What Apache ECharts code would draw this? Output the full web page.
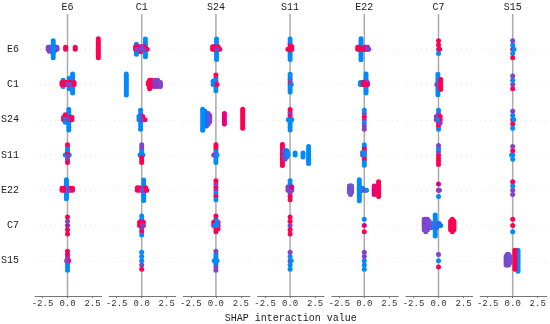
<!DOCTYPE html>
<html><head><meta charset="utf-8">
<script src="https://cdn.jsdelivr.net/npm/echarts@6/dist/echarts.min.js"></script>
<style>html,body{margin:0;padding:0;background:#fff}#c{width:550px;height:324px}</style>
</head><body><div id="c"></div>
<script>
const features = ['E6','C1','S24','S11','E22','C7','S15'];
const tickValues = [-2.5, 0, 2.5];
const xLabel = 'SHAP interaction value';
// One array per column feature; one entry per row feature.
// Each entry: [shap value, [feature colour value (0 low .. 1 high) of every point at that value]]
const colE6 = [
  [[-1.93,[0.36,0.4]],[-1.82,[0.4,0.36,0.4]],[-1.71,[0.4,0.4]],[-1.6,[0.36,0.4,0.4]],[-1.32,[0.4,0.4,0.36]],[-1.21,[0.4,0.4]],[-1.05,[0.45,0.4]],
   [-1.43,[0,0,0,0.05,0,0,0,0,0]],[-0.19,[0.95,1]],[0.77,[1,0.95]],[3.08,[1,1,1,1,1,1,1,1,1,1]]],
  [[-0.44,[0,0,0,0]],[0.17,[0,0,0,0,0,0]],[0.51,[0,0,0,0,0,0,0,0,0,0]],
   [-0.55,[1,0.95]],[-0.33,[1,1]],[-0.11,[0.95,1]],[0.06,[1,1]],[0.33,[1,1]],[0.66,[0.95,1]],[0.0,[0.4]],[0.22,[0.4]]],
  [[0.13,[0,0,0,0,0,0,0,0,0]],[-0.39,[1,1]],[-0.22,[1,0,0,1]],[0.28,[1,1]],[0.44,[1,0.9]],[0.0,[0.4]]],
  [[-0.22,[0]],[0.17,[0]],[0.0,[0,1,0.4,0,0.4,0,1,1]]],
  [[-0.11,[0,0,0,0,0,0,0,0,0,0]],[-0.55,[1,1]],[-0.39,[1,0.95]],[0.28,[1,1]],[0.5,[1,1]],[0.11,[0.4]]],
  [[0.0,[0.5,0.4,1,1,1]]],
  [[0.0,[0.25,0.4,0,0.8,0,1,0]],[0.11,[1]],[-0.09,[0.4]]]
];
const colC1 = [
  [[-0.53,[0,0,0,0,0]],[0.37,[0,0,0,0,0,0,0,0]],
   [-0.61,[1,1]],[-0.33,[1,0.9]],[-0.11,[1,1,0.9]],[0.11,[1,1]],[0.28,[0.9,1]],[0.55,[1]],[-0.44,[0.4]],[0.0,[0.4,0.4]],[0.22,[0.4]]],
  [[-1.54,[0,0,0,0,0,0,0,0,0,0,0]],[0.66,[1,1]],[0.79,[1,1,0.95,1,1]],[0.99,[1,0.9,1,1]],
   [1.32,[0.5,0.4,0.45,0.4]],[1.6,[0.4,0.4,0.45,0.4]],[1.87,[0.4,0.4,0.4]]],
  [[-0.11,[0,0,0,0,0,0,0]],[0.11,[1,1]],[0.33,[1]],[-0.28,[0,0]],[0.0,[0.4]]],
  [[-0.17,[0]],[0.11,[0]],[0.0,[0,0,1,0,1,0.4,1,0.4]]],
  [[0.2,[0,0,0,0,0,0,0,0,0]],[-0.44,[1,1]],[-0.22,[1,0.95]],[0.39,[1,1]],[0.5,[1]],[0.0,[0.4]]],
  [[0.0,[1,1,0.4,0,1,0,0]],[-0.22,[1,1]],[0.17,[1,0.9]],[0.11,[0.4]]],
  [[0.0,[0,0,0.4,0,1]]]
];
const colS24 = [
  [[0.06,[0,0,0,0,0,0,0,0,0]],[-0.33,[1,1]],[-0.17,[1,0.9]],[0.22,[1,1]],[0.39,[1]],[0.13,[0.4]]],
  [[0.0,[0,0.4,0,0,0,1]],[-0.28,[0,0]],[0.11,[1]]],
  [[-0.61,[0.4,0.4,0.36,0.4]],[-0.77,[0.36,0.4,0.4,0.36,0.4,0.4]],[-0.94,[0.28,0.32,0.32,0.28,0.32,0.32,0.28]],
   [-1.1,[0.15,0.1,0.2,0.15,0.1,0.2,0.15,0.1]],[-1.32,[0,0,0,0,0,0,0,0,0,0,0]],
   [0.85,[0.8,0.8,0.75,0.8,0.8,0.8]],[2.68,[1,1,1,1,1,1,1,1,1,1]]],
  [[0.0,[0.4,0.4,0,0,0,1,0,1]],[-0.22,[0.4]],[0.11,[0]]],
  [[0.0,[0.4,1,0,0.4,1,1,0]]],
  [[0.0,[1,0,1,0,1,1]],[-0.22,[1,1]],[0.22,[1,1,1]],[-0.11,[0]],[0.11,[0,0]]],
  [[0.0,[0.4,0,0,0,0.4,0.4,0.4]],[-0.17,[0]],[0.11,[0]]]
];
const colS11 = [
  [[0.0,[0.4,1,1,1,0,0,0,0,0]],[-0.22,[1]],[0.17,[1,1]]],
  [[0.0,[1,1,0,0.4,0,0,0,0]],[0.11,[0]]],
  [[0.0,[0.4,0.4,0,1,0,0.4,0,1,0]],[-0.17,[0]],[0.17,[0]]],
  [[-0.77,[1,1,1,1,1,1,1,1,1,1,1]],[-0.61,[0.45,0.5,0.45,0.4]],[-0.5,[0.36,0.4,0.36,0.32,0.4]],
   [-0.33,[0.2,0.25,0.2,0.15]],[-0.22,[0,0]],[0.5,[0,0]],[1.29,[0,0,0]],[1.85,[0,0,0,0,0,0,0,0,0]]],
  [[0.0,[0.4,0,0.4,0,1,0,1]],[-0.22,[0.4,0.4]],[0.17,[0.4,0.7]]],
  [[0.0,[0.4,1,1,1,1]]],
  [[0.0,[0.5,0,0,0.4,0]],[0.11,[0]]]
];
const colE22 = [
  [[-0.33,[0,0,0,0,0,0,0,0,0,0,0]],[-0.66,[1,1]],[-0.5,[1,0.95]],[-0.11,[1]],[0.06,[1,1]],[0.17,[1,0.9]],[0.33,[0.4,0.45]],[0.44,[0.4]]],
  [[0.17,[0,0,0,0,0,0,0,0,0,0]],[-0.39,[0,0]],[-0.22,[0,0]],[-0.11,[1,1]],[0.0,[1,0.9]],[0.33,[0.4,0.4]],[0.28,[1]]],
  [[0.0,[0.4,1,0,0.4,0.4,0,0.4]]],
  [[0.0,[0,1,1,1,1,1,0,0,0]],[-0.17,[0.4,0.4]],[-0.06,[0,0]]],
  [[-1.49,[0.36,0.4,0.36,0.4]],[-1.38,[0.32,0.36,0.32,0.36,0.32]],[-1.27,[0.36,0.32,0.36,0.32]],
   [-0.5,[0,0,0,0,0,0,0,0,0,0,0]],[-0.33,[0,0]],[-0.17,[0,0]],[0.11,[1]],[0.22,[0]],
   [0.99,[0.8,0.75,0.8,0.8,0.75]],[1.43,[1,1,1,1,1,1,1,1]]],
  [[0.0,[0.7,0,1]]],
  [[0.0,[0,0.4,0,0.4,0]]]
];
const colC7 = [
  [[0.0,[0.4,1,0,1]],[0.11,[1]]],
  [[-0.06,[0,0,0,0,0,0,0,0,0]],[-0.17,[0.4]],[0.22,[1,1,1,1,1]]],
  [[0.0,[0,0,1,0.4,1,0,0]],[-0.22,[1,0.4]],[0.17,[1,1,0.4]],[-0.11,[0]]],
  [[0.0,[1,0.4,1,0,1,0.4,1]]],
  [[0.0,[0.8,0.7,0]],[0.09,[0.4]]],
  [[-1.43,[0.4,0.4,0.36,0.4,0.4,0.36]],[-1.27,[0.36,0.4,0.36,0.4,0.36,0.4,0.36]],[-1.1,[0.4,0.36,0.4,0.4,0.36,0.4]],
   [-0.94,[0.4,0.36,0.4,0.36]],[-0.77,[0.36,0.32,0.36]],[-0.55,[0.25,0.28,0.25]],[-0.33,[0,0,0,0,0,0,0,0,0,0,0]],
   [-0.17,[0.2,0.25,0.2]],[0.06,[0.25,0.2]],[0.22,[0.1]],
   [1.21,[1,0.95,1,1,0.95]],[1.38,[1,1,0.95,1,1,1,0.95]],[1.54,[1,1,0.95,1,1]]],
  [[0.0,[0,0.4,1]]]
];
const colS15 = [
  [[0.0,[1,0,0,0.4,1]],[0.13,[0]]],
  [[0.0,[0.4,0,1,0.4]]],
  [[0.0,[1,0,1,0.4,0]],[0.11,[0]]],
  [[0.0,[0,1,0,0.4]],[-0.11,[0]]],
  [[0.0,[0.4,0,0.4,1]]],
  [[0.0,[1,1,0]]],
  [[-0.66,[0.4,0.36,0.4,0.4,0.36]],[-0.55,[0.36,0.4,0.36,0.4,0.36,0.4]],[-0.42,[0.4,0.36,0.4,0.36,0.4,0.4]],[-0.28,[0.36,0.32,0.36,0.32]],
   [0.53,[0,0,0,0,0,0,0,0,0,0,0]],[0.39,[0,0,0,0,0,0,0,0]],[0.22,[1,1,1,1,1,0.95,1,1,1,1]]]
];
const columns = [colE6, colC1, colS24, colS11, colE22, colC7, colS15];

// shap-style beeswarm layout of one row
function swarm(groups, row) {
  const pts = [];
  groups.forEach(g => g[1].forEach(c => pts.push([g[0], c])));
  const xs = pts.map(p => p[0]);
  const mn = Math.min(...xs), mx = Math.max(...xs);
  const q = xs.map(x => Math.round(100 * (x - mn) / (mx - mn + 1e-8)));
  const idx = pts.map((p, i) => i).sort((a, b) => (q[a] - q[b]) || (a - b));
  const ys = new Array(pts.length).fill(0);
  let layer = 0, last = -1;
  idx.forEach(i => {
    if (q[i] !== last) layer = 0;
    ys[i] = Math.ceil(layer / 2) * ((layer % 2) * 2 - 1);
    layer++; last = q[i];
  });
  const m = Math.max(...ys.map(y => y + 1));
  return pts.map((p, i) => [p[0], row - ys[i] * 0.9 * (0.4 / m), p[1]]);
}

// shap red_blue colormap (LCH interpolation)
function lch2rgb(L, C, H) {
  const a = C * Math.cos(H), b = C * Math.sin(H);
  const fy = (L + 16) / 116, fx = fy + a / 500, fz = fy - b / 200;
  const f = t => t > 6 / 29 ? t * t * t : 3 * (6 / 29) * (6 / 29) * (t - 4 / 29);
  const X = 0.95047 * f(fx), Y = f(fy), Z = 1.08883 * f(fz);
  const lin = [3.2406 * X - 1.5372 * Y - 0.4986 * Z, -0.9689 * X + 1.8758 * Y + 0.0415 * Z, 0.0557 * X - 0.2040 * Y + 1.0570 * Z];
  const gam = v => { v = Math.max(0, Math.min(1, v)); return v <= 0.0031308 ? 12.92 * v : 1.055 * Math.pow(v, 1 / 2.4) - 0.055; };
  return 'rgb(' + lin.map(v => Math.round(gam(v) * 255)).join(',') + ')';
}
const cmap = [];
for (let i = 0; i <= 20; i++) {
  const t = i / 20;
  const L = t < 0.5 ? 54 + (40 - 54) * t * 2 : 40 + (54 - 40) * (t - 0.5) * 2;
  const C = 70 + 20 * t;
  const H = 4.6588 + (0.35470565 + 2 * Math.PI - 4.6588) * t;
  cmap.push(lch2rgb(L, C, H));
}

const FONT = 'Liberation Mono';
const LEFT0 = 35, STEP = 74.2, W = 66.5, TOP = 14, H = 282;
const XMIN = -3.25, XMAX = 3.4;
const rowIdx = features.map((f, i) => i);
const grids = [], xAxes = [], yAxes = [], series = [], titles = [];
columns.forEach((col, k) => {
  const left = LEFT0 + STEP * k;
  grids.push({ left: left, top: TOP, width: W, height: H, containLabel: false, outerBoundsMode: 'none' });
  titles.push({ text: features[k], left: left + W * (-XMIN / (XMAX - XMIN)), top: 2, textAlign: 'center', padding: 0,
    textStyle: { fontSize: 10, fontWeight: 'normal', color: '#222', fontFamily: FONT } });
  xAxes.push({ gridIndex: k, type: 'value', min: XMIN, max: XMAX,
    axisLine: { show: true, onZero: false, lineStyle: { color: '#777', width: 1 } },
    axisTick: { show: true, customValues: tickValues, length: 2, lineStyle: { color: '#777' } },
    axisLabel: { customValues: tickValues, formatter: v => v.toFixed(1), margin: 3, fontSize: 9, fontFamily: FONT, color: '#333' },
    splitLine: { show: false },
    name: k === 3 ? xLabel : '', nameLocation: 'middle', nameGap: 15,
    nameTextStyle: { fontSize: 10, fontFamily: FONT, color: '#222' } });
  const splitColors = ['rgba(0,0,0,0)'].concat(features.map(() => '#d4d4d4'), ['rgba(0,0,0,0)']);
  yAxes.push({ gridIndex: k, type: 'value', min: -1, max: 7, interval: 1, inverse: true,
    axisLine: { show: false }, axisTick: { show: false },
    splitLine: { show: true, lineStyle: { color: splitColors, width: 0.6, type: [1, 4] } },
    axisLabel: { show: k === 0, customValues: rowIdx, formatter: v => features[v] || '', margin: 16,
      fontSize: 10, fontFamily: FONT, color: '#222' } });
  series.push({ type: 'line', xAxisIndex: k, yAxisIndex: k, data: [[0, -1], [0, 7]], symbol: 'none', silent: true,
    z: 1, lineStyle: { color: '#aaaaaa', width: 1.5 } });
  let data = [];
  col.forEach((groups, r) => { data = data.concat(swarm(groups, r)); });
  series.push({ type: 'scatter', xAxisIndex: k, yAxisIndex: k, data: data, symbolSize: 5, z: 3,
    itemStyle: { opacity: 1 } });
});

const chart = echarts.init(document.getElementById('c'), null, { renderer: 'canvas' });
chart.setOption({
  animation: false,
  backgroundColor: '#fff',
  title: titles,
  grid: grids, xAxis: xAxes, yAxis: yAxes,
  visualMap: { type: 'continuous', show: false, dimension: 2, min: 0, max: 1,
    seriesIndex: series.map((s, i) => i).filter(i => i % 2 === 1), inRange: { color: cmap } },
  series: series
});
</script></body></html>
